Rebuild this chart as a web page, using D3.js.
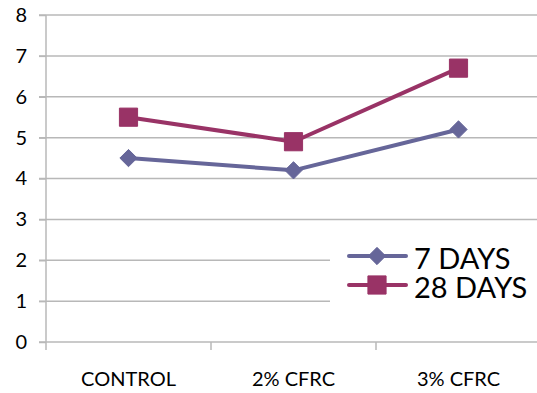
<!DOCTYPE html>
<html>
<head>
<meta charset="utf-8">
<script src="https://cdn.jsdelivr.net/npm/d3@7"></script>
<style>
  html, body { margin: 0; padding: 0; background: #fff; }
  svg { display: block; font-family: Lato, "Open Sans", sans-serif; }
</style>
</head>
<body>
<svg id="chart" width="537" height="393"></svg>
<script>
// Strength readings by mix
const categories = ["CONTROL", "2% CFRC", "3% CFRC"];
const seriesNames = ["7 DAYS", "28 DAYS"];
const days7 = [4.5, 4.2, 5.2];
const days28 = [5.5, 4.9, 6.7];
const yTicks = [0, 1, 2, 3, 4, 5, 6, 7, 8];
const seriesColors = ["#666699", "#993366"];

const svg = d3.select("#chart");
const plotLeft = 46, plotRight = 541, plotTop = 15, plotBottom = 342;
const fontFamily = "Lato, 'Open Sans', sans-serif";

const x = d3.scaleBand().domain(categories).range([plotLeft, plotRight]);
const y = d3.scaleLinear().domain([0, 8]).range([plotBottom, plotTop]);

const gridColor = "#b8b8b8";

// horizontal gridlines
svg.append("g").selectAll("line").data(yTicks.filter(d => d > 0)).join("line")
  .attr("x1", plotLeft - 7).attr("x2", 537)
  .attr("y1", d => y(d)).attr("y2", d => y(d))
  .attr("stroke", gridColor).attr("stroke-width", 1.5);

// y axis
const yAxis = svg.append("g").attr("transform", `translate(${plotLeft},0)`)
  .call(d3.axisLeft(y).tickValues(yTicks).tickSize(7).tickPadding(12).tickFormat(d3.format("d")));
yAxis.select(".domain").attr("stroke", gridColor).attr("stroke-width", 1.5)
  .attr("d", `M0,${plotTop}V${plotBottom + 8}`);
yAxis.selectAll(".tick line").attr("stroke", gridColor).attr("stroke-width", 1.5);
yAxis.selectAll(".tick text").attr("font-size", 20).attr("fill", "#000")
  .attr("font-family", fontFamily);

// x axis
const xAxis = svg.append("g").attr("transform", `translate(0,${plotBottom})`)
  .call(d3.axisBottom(x).tickSize(0).tickPadding(30));
xAxis.select(".domain").attr("stroke", gridColor).attr("stroke-width", 1.5)
  .attr("d", `M${plotLeft - 7},0H537`);
xAxis.selectAll(".tick text").attr("font-size", 20).attr("fill", "#000")
  .attr("font-family", fontFamily);
// category dividers
svg.append("g").selectAll("line").data(categories.slice(1)).join("line")
  .attr("x1", d => x(d)).attr("x2", d => x(d))
  .attr("y1", plotBottom).attr("y2", plotBottom + 8)
  .attr("stroke", gridColor).attr("stroke-width", 1.5);

const cx = d => x(d) + x.bandwidth() / 2;
const line = d3.line().x(d => cx(d.c)).y(d => y(d.v));

const series = [days7, days28].map((vals, i) => ({
  name: seriesNames[i],
  color: seriesColors[i],
  symbol: i === 0 ? d3.symbolDiamond2 : d3.symbolSquare,
  size: i === 0 ? 190 : 330,
  pts: vals.map((v, j) => ({ c: categories[j], v }))
}));

// legend background hides gridlines behind it
svg.append("rect").attr("x", 330).attr("y", 236).attr("width", 207).attr("height", 68).attr("fill", "#fff");

series.forEach(s => {
  svg.append("path").datum(s.pts).attr("d", line)
    .attr("fill", "none").attr("stroke", s.color).attr("stroke-width", 4)
    .attr("stroke-linejoin", "round");
  svg.append("g").selectAll("path").data(s.pts).join("path")
    .attr("transform", d => `translate(${cx(d.c)},${y(d.v)})`)
    .attr("d", d3.symbol().type(s.symbol).size(s.size))
    .attr("fill", s.color).attr("stroke", s.color).attr("stroke-width", 1)
    .attr("stroke-linejoin", "round");
});

// legend
const legend = svg.append("g");
series.forEach((s, i) => {
  const ly = 256 + i * 29;
  legend.append("line").attr("x1", 349).attr("x2", 406).attr("y1", ly).attr("y2", ly)
    .attr("stroke", s.color).attr("stroke-width", 4).attr("stroke-linecap", "round");
  legend.append("path").attr("transform", `translate(377,${ly})`)
    .attr("d", d3.symbol().type(s.symbol).size(s.size))
    .attr("fill", s.color).attr("stroke", s.color).attr("stroke-width", 1)
    .attr("stroke-linejoin", "round");
  legend.append("text").attr("x", 414).attr("y", ly + 13)
    .attr("font-size", 29).attr("font-family", fontFamily)
    .attr("fill", "#000").text(s.name);
});
</script>
</body>
</html>
